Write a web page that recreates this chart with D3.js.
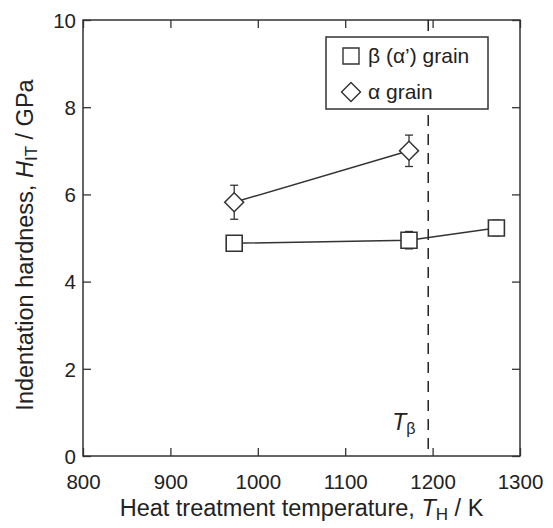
<!DOCTYPE html>
<html>
<head>
<meta charset="utf-8">
<script src="https://cdn.jsdelivr.net/npm/d3@7"></script>
<style>
  body { margin: 0; background: #fff; }
  svg text { font-family: "Liberation Sans", Arial, Helvetica, sans-serif; fill: #222; }
</style>
</head>
<body>
<svg width="553" height="528"></svg>
<script>
// Data
const betaT = [973, 1173, 1273];
const betaH = [4.88, 4.95, 5.23];
const betaErr = [0.1, 0.2, 0.18];

const alphaT = [973, 1173];
const alphaH = [5.82, 7.0];
const alphaErr = [0.39, 0.36];

const betaTransus = 1195;

const xTicks = [800, 900, 1000, 1100, 1200, 1300];
const yTicks = [0, 2, 4, 6, 8, 10];

const svg = d3.select("svg");
const margin = {top: 20, right: 33, bottom: 72, left: 83};
const width = 553 - margin.left - margin.right,
    height = 528 - margin.top - margin.bottom;

const g = svg.append("g").attr("transform", `translate(${margin.left},${margin.top})`);

const x = d3.scaleLinear().domain([800, 1300]).range([0, width]);
const y = d3.scaleLinear().domain([0, 10]).range([height, 0]);

const ink = "#333";

// Axes, ticks pointing inwards on all four sides
g.append("g")
    .attr("transform", `translate(0,${height})`)
    .call(d3.axisBottom(x).tickValues(xTicks).tickFormat(d3.format("d"))
        .tickSizeInner(-8).tickSizeOuter(0).tickPadding(18))
    .call(a => a.selectAll("text").style("font-size", "20.5px"));
g.append("g")
    .call(d3.axisTop(x).tickValues(xTicks).tickSizeInner(-8).tickSizeOuter(0).tickFormat(""));
g.append("g")
    .call(d3.axisLeft(y).tickValues(yTicks).tickSizeInner(-8).tickSizeOuter(0).tickPadding(7))
    .call(a => a.selectAll("text").style("font-size", "20.5px").attr("dy", "0.36em"));
g.append("g")
    .attr("transform", `translate(${width},0)`)
    .call(d3.axisRight(y).tickValues(yTicks).tickSizeInner(-8).tickSizeOuter(0).tickFormat(""));
g.selectAll(".domain").remove();
g.selectAll(".tick line").attr("stroke", ink).attr("stroke-width", 1.3);

g.append("rect")
    .attr("width", width).attr("height", height)
    .attr("fill", "none").attr("stroke", ink).attr("stroke-width", 1.5);

// beta transus
g.append("line")
    .attr("x1", x(betaTransus)).attr("x2", x(betaTransus))
    .attr("y1", 0).attr("y2", height)
    .attr("stroke", "#222").attr("stroke-width", 1.5)
    .attr("stroke-dasharray", "11,8");

const tb = g.append("text")
    .attr("x", x(betaTransus) - 36).attr("y", y(0.6))
    .style("font-size", "23px");
tb.append("tspan").style("font-style", "italic").text("T");
tb.append("tspan").attr("dy", 4).style("font-size", "16px").text("β");

// Series
const beta = betaT.map((t, i) => ({t: t, h: betaH[i], e: betaErr[i]}));
const alpha = alphaT.map((t, i) => ({t: t, h: alphaH[i], e: alphaErr[i]}));

const line = d3.line().x(d => x(d.t)).y(d => y(d.h));

[beta, alpha].forEach(s => {
    g.append("path").datum(s)
        .attr("d", line)
        .attr("fill", "none").attr("stroke", ink).attr("stroke-width", 1.5);
    const eb = g.append("g").selectAll("g").data(s).join("g")
        .attr("stroke", ink).attr("stroke-width", 1.3);
    eb.append("line")
        .attr("x1", d => x(d.t)).attr("x2", d => x(d.t))
        .attr("y1", d => y(d.h - d.e)).attr("y2", d => y(d.h + d.e));
    eb.append("line")
        .attr("x1", d => x(d.t) - 4).attr("x2", d => x(d.t) + 4)
        .attr("y1", d => y(d.h + d.e)).attr("y2", d => y(d.h + d.e));
    eb.append("line")
        .attr("x1", d => x(d.t) - 4).attr("x2", d => x(d.t) + 4)
        .attr("y1", d => y(d.h - d.e)).attr("y2", d => y(d.h - d.e));
});

const square = d3.symbol().type(d3.symbolSquare).size(256);
const diamond = d3.symbol().type(d3.symbolSquare).size(180);

g.append("g").selectAll("path").data(beta).join("path")
    .attr("d", square)
    .attr("transform", d => `translate(${x(d.t)},${y(d.h)})`)
    .attr("fill", "#fff").attr("stroke", ink).attr("stroke-width", 1.6);

g.append("g").selectAll("path").data(alpha).join("path")
    .attr("d", diamond)
    .attr("transform", d => `translate(${x(d.t)},${y(d.h)}) rotate(45)`)
    .attr("fill", "#fff").attr("stroke", ink).attr("stroke-width", 1.5);

// Legend
const lg = svg.append("g").attr("transform", "translate(326,37)");
lg.append("rect").attr("width", 162).attr("height", 72)
    .attr("fill", "#fff").attr("stroke", ink).attr("stroke-width", 1.5);
lg.append("path").attr("d", square)
    .attr("transform", "translate(25,19)")
    .attr("fill", "#fff").attr("stroke", ink).attr("stroke-width", 1.4);
lg.append("path").attr("d", diamond)
    .attr("transform", "translate(25,55) rotate(45)")
    .attr("fill", "#fff").attr("stroke", ink).attr("stroke-width", 1.4);
lg.append("text").attr("x", 42).attr("y", 26).style("font-size", "21px").text("β (α’) grain");
lg.append("text").attr("x", 42).attr("y", 62).style("font-size", "21px").text("α grain");

// Axis titles
const xt = svg.append("text")
    .attr("x", margin.left + width / 2).attr("y", 516)
    .attr("text-anchor", "middle").style("font-size", "23.5px");
xt.append("tspan").text("Heat treatment temperature, ");
xt.append("tspan").style("font-style", "italic").text("T");
xt.append("tspan").attr("dy", 4).style("font-size", "17px").text("H");
xt.append("tspan").attr("dy", -4).text(" / K");

const yt = svg.append("text")
    .attr("transform", `translate(33,${margin.top + height / 2 + 7}) rotate(-90)`)
    .attr("text-anchor", "middle").style("font-size", "23.5px");
yt.append("tspan").text("Indentation hardness, ");
yt.append("tspan").style("font-style", "italic").text("H");
yt.append("tspan").attr("dy", 4).style("font-size", "17px").text("IT");
yt.append("tspan").attr("dy", -4).text(" / GPa");
</script>
</body>
</html>
